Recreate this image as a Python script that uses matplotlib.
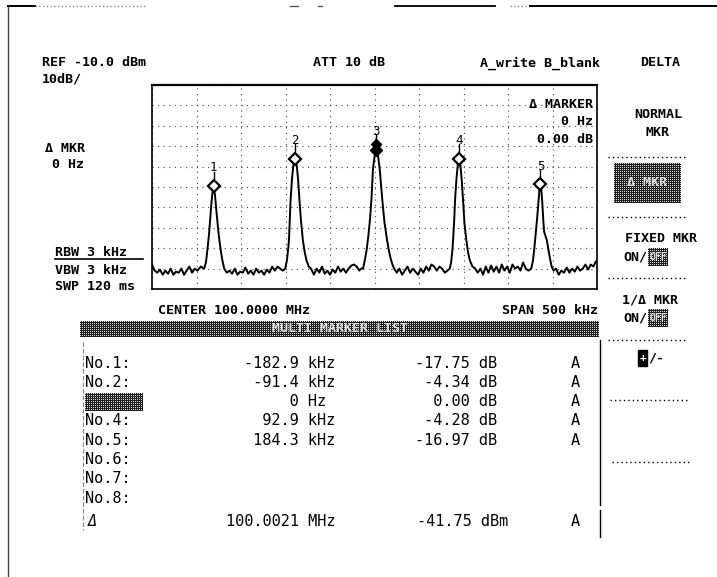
import numpy as np
import matplotlib
matplotlib.use("Agg")
import matplotlib.pyplot as plt
from matplotlib.patches import Rectangle

# ---------------- data ----------------
center_mhz = 100.0
ref_level_dbm = -10.0
db_per_div = 10.0
span_khz = 500.0

marker_labels = ["1", "2", "3", "4", "5"]
marker_freq_khz = [-182.9, -91.4, 0.0, 92.9, 184.3]      # relative to delta reference
marker_rel_db = [-17.75, -4.34, 0.00, -4.28, -16.97]
ref_marker_mhz = 100.0021
ref_marker_dbm = -41.75
row_names = ["No.1:", "No.2:", "No.3:", "No.4:", "No.5:", "No.6:", "No.7:", "No.8:"]

noise_a_khz = [-250, -247, -244, -241, -238, -235, -232, -229, -226, -223, -220, -217,
               -214, -211, -208, -205, -202, -199, -195]
noise_a_dbm = [-98, -101, -102, -100.5, -103, -101, -102.5, -100, -103, -101.5, -102, -100,
               -103, -101, -99, -102, -100, -101, -99]
peak_1_khz = [-191.4, -189.4, -187.8, -185.9, -183.8, -182.4, -180.8, -179.2, -177.8,
              -175.4, -172.8, -170.9, -168.9]
peak_1_dbm = [-100, -97, -91, -83, -71, -64, -59.5, -64, -71, -82, -91, -96, -100]
noise_b_khz = [-166, -163, -160, -157, -154, -151, -148, -145, -142, -139, -136, -133,
               -130, -127, -124, -121, -118, -115, -112, -109, -103]
noise_b_dbm = [-102, -101, -102.5, -100, -103, -101.5, -102, -99.5, -102.5, -101, -103, -100,
               -102, -101, -103, -100.5, -102, -99, -101, -99, -101]
peak_2_khz = [-100.4, -98.4, -96.9, -96.1, -95.4, -94.3, -92.7, -91.1, -89.3, -87.5, -85.9,
              -84.3, -82.7, -80.5, -78.4, -76.4, -73.9, -71.4]
peak_2_dbm = [-100, -96, -90, -86, -78, -66.5, -56, -49, -46.1, -49, -56, -66.5, -76, -86,
              -92, -96, -99, -100]
noise_c_khz = [-68, -65, -62, -59, -56, -53, -50, -47, -44, -41, -38, -35, -32, -29, -26,
               -23, -20, -17, -15]
noise_c_dbm = [-103, -100, -102, -99, -102.5, -101, -103, -100.5, -102, -99, -101.5, -100,
               -102, -100, -98.5, -98, -99, -101, -100]
peak_3_khz = [-12.9, -10.9, -8.9, -6.9, -4.9, -3.5, -1.7, 0.1, 2.1, 4.1, 5.8, 8.8, 11.1,
              14.1, 16.1, 18.1, 20.1, 22.1]
peak_3_dbm = [-100, -96, -91, -84, -75, -66.4, -51, -45, -41.75, -45, -51, -66.4, -77, -86,
              -91, -95, -98, -100]
noise_d_khz = [25, 28, 31, 34, 37, 40, 43, 46, 49, 52, 55, 58, 61, 64, 67, 70, 73, 76, 79, 82]
noise_d_dbm = [-102, -100, -103, -101, -99, -102, -100, -101.5, -103, -100, -102, -99, -101,
               -98, -99, -101, -99, -100, -102, -101]
peak_4_khz = [84.5, 86.1, 87.5, 88.3, 89.6, 90.5, 92.1, 93.6, 95.0, 96.4, 97.9, 99.5, 101.1,
              103.2, 105.1, 107.1, 110.1, 113.1]
peak_4_dbm = [-100, -97, -91, -86, -76, -66.4, -56, -49, -46.03, -49, -56, -66.4, -78, -86,
              -92, -96, -99, -100]
noise_e_khz = [116, 119, 122, 125, 128, 131, 134, 137, 140, 143, 146, 149, 152, 155, 158,
               161, 164, 167, 170, 173]
noise_e_dbm = [-102, -100, -103, -99, -102, -98.5, -101.5, -99, -102, -98, -101, -99, -102,
               -98, -100, -99, -101, -97, -100, -101]
peak_5_khz = [176.1, 178.1, 179.6, 181.1, 182.6, 184.1, 185.4, 186.4, 187.4, 188.6, 189.6,
              190.6, 192.1, 193.6, 195.1, 197.1, 199.1, 201.1]
peak_5_dbm = [-100, -96, -90, -83, -76, -68, -61, -58.72, -61, -68, -76, -82, -84, -86, -90,
              -95, -99, -101]
noise_f_khz = [204, 207, 210, 213, 216, 219, 222, 225, 228, 231, 234, 237, 240, 243, 246,
               248, 250]
noise_f_dbm = [-100, -103, -101, -102, -99.5, -102, -100, -101.5, -99, -101, -100, -98,
               -100.5, -98, -99, -97, -96]

trace_khz = (noise_a_khz + peak_1_khz + noise_b_khz + peak_2_khz + noise_c_khz + peak_3_khz
             + noise_d_khz + peak_4_khz + noise_e_khz + peak_5_khz + noise_f_khz)
trace_dbm = (noise_a_dbm + peak_1_dbm + noise_b_dbm + peak_2_dbm + noise_c_dbm + peak_3_dbm
             + noise_d_dbm + peak_4_dbm + noise_e_dbm + peak_5_dbm + noise_f_dbm)

# ---------------- figure ----------------
W, H = 717, 577
fig = plt.figure(figsize=(W / 100, H / 100), dpi=100)
bg = fig.add_axes([0, 0, 1, 1])
bg.set_xlim(0, W)
bg.set_ylim(H, 0)
bg.axis("off")

HDR = ["DejaVu Sans Mono"]
MONO = ["DejaVu Sans Mono"]
hs = 9.6
HW = "bold"


def htext(x, y, s, ha="left", size=hs, color="black", family=HDR, weight=HW, **kw):
    bg.text(x, y, s, ha=ha, va="center", fontsize=size, color=color,
            family=family, fontweight=weight, **kw)


def dither(x0, y0, x1, y1):
    w = int(round(x1 - x0))
    h = int(round(y1 - y0))
    i, j = np.indices((h, w))
    pat = np.where(((i % 2) == 0) & ((j % 2) == 0), 0.85, 0.12)
    bg.imshow(pat, cmap="gray", vmin=0, vmax=1, extent=(x0, x1, y1, y0),
              interpolation="nearest", aspect="auto", zorder=2)


def dotted(x0, x1, y):
    bg.plot([x0, x1], [y, y], color="black", lw=1.0, ls=(0, (1, 2.2)), zorder=1)


# outer scan frame
bg.plot([8, 8], [6, 577], color="#444444", lw=1.0)
bg.plot([8, 35], [6, 6], color="black", lw=1.4)
bg.plot([35, 147], [6, 6], color="#777777", lw=0.9, ls=(0, (1, 2)))
bg.plot([290, 298], [6, 6], color="#555555", lw=1.0)
bg.plot([318, 322], [6, 6], color="#555555", lw=1.0)
bg.plot([395, 495], [6, 6], color="black", lw=1.3)
bg.plot([510, 527], [6, 6], color="#777777", lw=0.9, ls=(0, (1, 2)))
bg.plot([530, 717], [6, 6], color="black", lw=1.4)

# header texts
htext(42, 63, "REF -10.0 dBm")
htext(42, 79, "10dB/")
htext(313, 63, "ATT 10 dB")
htext(480, 63, "A_write B_blank")
htext(660, 63, "DELTA", ha="center")
htext(45, 148, "\u0394 MKR")
htext(52, 165, "0 Hz")

htext(55, 252, "RBW 3 kHz")
bg.plot([55, 143], [259, 259], color="black", lw=1.2)
htext(55, 270, "VBW 3 kHz")
htext(55, 287, "SWP 120 ms")
htext(158, 310, f"CENTER {center_mhz:.4f} MHz")
htext(598, 310, f"SPAN {span_khz:.0f} kHz", ha="right")

# right soft-key menu
htext(658, 115, "NORMAL", ha="center")
htext(658, 133, "MKR", ha="center")
dotted(608, 688, 157)
dither(614, 163, 681, 203)
htext(647, 183, "\u0394 MKR", ha="center", color="#dddddd", zorder=3)
dotted(608, 688, 217)
htext(661, 238, "FIXED MKR", ha="center")
htext(647, 257, "ON/", ha="right")
dither(648, 248, 668, 266)
htext(658, 257, "OFF", ha="center", size=7, color="#dddddd", zorder=3)
dotted(608, 688, 278)
htext(650, 300, "1/\u0394 MKR", ha="center")
htext(647, 318, "ON/", ha="right")
dither(648, 309, 668, 327)
htext(658, 318, "OFF", ha="center", size=7, color="#dddddd", zorder=3)
dotted(608, 688, 340)
bg.add_patch(Rectangle((638, 350), 9, 16, facecolor="black", edgecolor="black", zorder=2))
htext(642.5, 358, "+", ha="center", size=8, color="white", zorder=3)
htext(648, 358, "/-", ha="left")
dotted(610, 690, 400)
dotted(612, 690, 462)
bg.plot([600, 600], [340, 505], color="black", lw=1.0)
bg.plot([600, 600], [510, 537], color="black", lw=1.0)

# marker list banner
dither(80, 321, 599, 337)
htext(340, 329, "MULTI MARKER LIST", ha="center", color="#dddddd", zorder=3)
bg.plot([83, 83], [342, 530], color="#888888", lw=0.8, ls=(0, (4, 2)))


def fmt_freq(khz):
    if khz == 0:
        return f"{0:>6d} Hz "
    return f"{khz:>6.1f} kHz"


ts = 11
row_y0, row_dy = 363, 19.3
for k, name in enumerate(row_names):
    y = row_y0 + k * row_dy
    if k == 2:
        dither(85, y - 9, 143, y + 9)
    else:
        bg.text(85, y, name, ha="left", va="center", fontsize=ts, family=MONO)
    if k < len(marker_freq_khz):
        bg.text(335, y, fmt_freq(marker_freq_khz[k]), ha="right", va="center",
                fontsize=ts, family=MONO)
        bg.text(497, y, f"{marker_rel_db[k]:>6.2f} dB", ha="right", va="center",
                fontsize=ts, family=MONO)
        bg.text(575, y, "A", ha="center", va="center", fontsize=ts, family=MONO)
yd = 521
bg.text(92, yd, "\u0394", ha="center", va="center", fontsize=ts, family=MONO, style="italic")
bg.text(335, yd, f"{ref_marker_mhz:.4f} MHz", ha="right", va="center", fontsize=ts,
        family=MONO)
bg.text(508, yd, f"{ref_marker_dbm:>6.2f} dBm", ha="right", va="center", fontsize=ts,
        family=MONO)
bg.text(575, yd, "A", ha="center", va="center", fontsize=ts, family=MONO)

# ---------------- spectrum display ----------------
x0, x1, y0, y1 = 152, 597, 85, 289
ax = fig.add_axes([x0 / W, 1 - y1 / H, (x1 - x0) / W, (y1 - y0) / H])
ax.set_xlim(-span_khz / 2, span_khz / 2)
ax.set_ylim(ref_level_dbm - 10 * db_per_div, ref_level_dbm)
ax.set_xticks(np.arange(-250, 251, 50))
ax.set_yticks(np.arange(ref_level_dbm - 10 * db_per_div, ref_level_dbm + 1, db_per_div))
ax.tick_params(length=0, labelbottom=False, labelleft=False)
ax.grid(True, color="#444444", lw=0.8, ls=(0, (1, 4)))
for side, sp in ax.spines.items():
    sp.set_color("black")
    sp.set_linewidth(1.2)
ax.spines["top"].set_linewidth(1.6)

ax.plot(trace_khz, trace_dbm, color="black", lw=1.4, zorder=3)

ref_offset_khz = (ref_marker_mhz - center_mhz) * 1000.0
for lab, f, rel in zip(marker_labels, marker_freq_khz, marker_rel_db):
    fx = f + ref_offset_khz
    lvl = ref_marker_dbm + rel
    ax.plot([fx, fx], [lvl, lvl + 7], color="black", lw=1.0, zorder=4)
    if rel == 0:
        ax.plot(fx, lvl, marker="D", ms=6, mfc="black", mec="black", zorder=5)
        ax.plot(fx, lvl + 3, marker="D", ms=5, mfc="black", mec="black", zorder=5)
    else:
        ax.plot(fx, lvl, marker="D", ms=6, mfc="white", mec="black", mew=1.6, zorder=5)
    ax.text(fx, lvl + 9, lab, ha="center", va="center", fontsize=9, family=HDR, zorder=5)

ax.text(0.99, 0.905, "\u0394 MARKER", transform=ax.transAxes, ha="right", va="center",
        fontsize=hs, family=HDR, fontweight=HW)
ax.text(0.99, 0.82, "0 Hz", transform=ax.transAxes, ha="right", va="center",
        fontsize=hs, family=HDR, fontweight=HW)
ax.text(0.99, 0.735, "0.00 dB", transform=ax.transAxes, ha="right", va="center",
        fontsize=hs, family=HDR, fontweight=HW)

fig.savefig("out.png", dpi=100)
